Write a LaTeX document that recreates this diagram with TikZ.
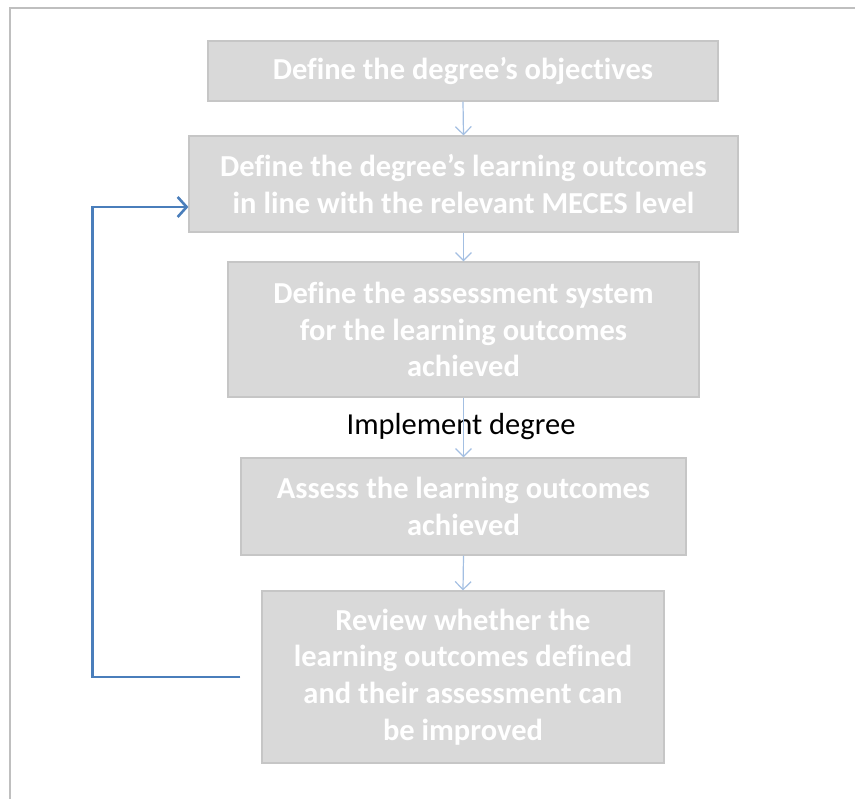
\documentclass[tikz,border=0pt]{standalone}
\usepackage{fontspec}
\setmainfont[Ligatures={NoCommon}]{Carlito}
\usetikzlibrary{arrows.meta,calc}
\definecolor{boxfill}{HTML}{D9D9D9}
\definecolor{boxline}{HTML}{C6C6C6}
\definecolor{lightarrow}{HTML}{A3BFE2}
\definecolor{fbblue}{HTML}{4A7EBB}
\definecolor{framegray}{HTML}{BFBFBF}
\tikzset{
  stepbox/.style={draw=boxline, line width=1.2pt, fill=boxfill, text=white, align=center,
    font=\bfseries\fontsize{30.5}{36.8}\selectfont, inner sep=0pt},
  flowarrow/.style={draw=lightarrow, line width=1.2pt, -{Straight Barb[length=8pt,width=16pt]}},
  feedback/.style={draw=fbblue, line width=2.6pt, -{Straight Barb[length=9pt,width=20pt]}},
  plainlabel/.style={font=\fontsize{30.5}{36.8}\selectfont, text=black, inner sep=0pt}
}
\begin{document}
\begin{tikzpicture}[x=1pt,y=1pt]
\useasboundingbox (0,0) rectangle (855,-799);
\draw[framegray, line width=2pt] (10,-799) -- (10,-8) -- (855,-8);
\node[stepbox, minimum width=510pt, minimum height=60pt] (b1) at (463,-71) {Define the degree’s objectives};
\node[stepbox, minimum width=549pt, minimum height=96pt] (b2) at (463.5,-184) {Define the degree’s learning outcomes\\in line with the relevant MECES level};
\node[stepbox, minimum width=471pt, minimum height=135pt] (b3) at (463.5,-329.5) {Define the assessment system\\for the learning outcomes\\achieved};
\node[stepbox, minimum width=445pt, minimum height=97pt] (b4) at (463.5,-506.5) {Assess the learning outcomes\\achieved};
\node[stepbox, minimum width=402pt, minimum height=172pt] (b5) at (463,-677) {Review whether the\\learning outcomes defined\\and their assessment can\\be improved};
\node[plainlabel] (impl) at (461,-427) {Implement degree};
\draw[flowarrow] (b1.south) -- (b2.north);
\draw[flowarrow] (b2.south) -- (b3.north);
\draw[flowarrow] (b3.south) -- (b4.north);
\draw[flowarrow] (b4.south) -- (b5.north);
\coordinate (fbout) at ($(b5.west)+(-21,0)$);
\coordinate (fbin) at ($(b2.west)+(0,-23)$);
\draw[feedback] (fbout) -- ++(-148,0) |- (fbin);
\end{tikzpicture}
\end{document}
